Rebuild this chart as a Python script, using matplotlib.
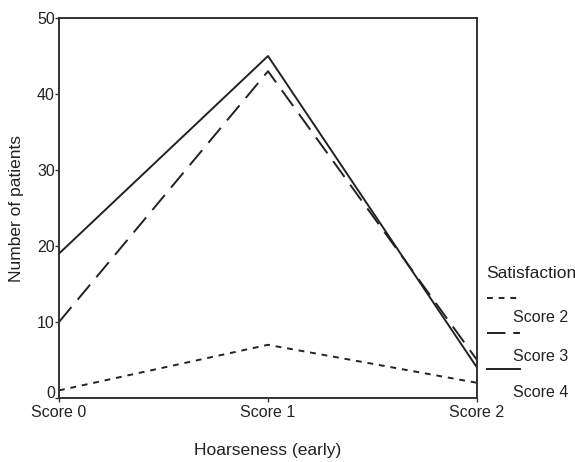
import matplotlib
matplotlib.use("Agg")
import matplotlib.pyplot as plt
from matplotlib.lines import Line2D
from matplotlib.transforms import ScaledTranslation

plt.rcParams['font.family'] = ['Liberation Sans', 'DejaVu Sans']

categories = ["Score 0", "Score 1", "Score 2"]
score2 = [1, 7, 2]
score3 = [10, 43, 5]
score4 = [19, 45, 4]
series_labels = ["Score 2", "Score 3", "Score 4"]
yticks = [0, 10, 20, 30, 40, 50]

fig = plt.figure(figsize=(5.75, 4.62), dpi=100)
ax = fig.add_axes([0.1026, 0.1385, 0.7270, 0.8225])

x = range(len(categories))
ax.plot(x, score2, color="#222222", lw=1.4, linestyle=(0, (3, 3)))
ax.plot(x, score3, color="#222222", lw=1.4, linestyle=(0, (10, 5)))
ax.plot(x, score4, color="#222222", lw=1.4, linestyle="-")

ax.set_xlim(0, 2)
ax.set_ylim(0, 50)
ax.set_xticks(list(x))
ax.set_xticklabels(categories)
ax.set_yticks(yticks)
ax.tick_params(labelsize=11.5, length=3, width=1, color="#333333", labelcolor="#222222")
ax.tick_params(axis="y", pad=0)
ax.tick_params(axis="x", pad=2)
for s in ax.spines.values():
    s.set_linewidth(1.4)
    s.set_color("#333333")

# lift the "0" label a bit so it clears "Score 0"
zero = ax.get_yticklabels()[0]
zero.set_transform(zero.get_transform() + ScaledTranslation(0, 4 / 72, fig.dpi_scale_trans))

ax.set_ylabel("Number of patients", fontsize=12.5, color="#222222", labelpad=9)
fig.text(0.466, 0.024, "Hoarseness (early)", fontsize=12.5, ha="center", va="center", color="#222222")

# legend drawn by hand
fig.text(0.845, 0.407, "Satisfaction", fontsize=12.5, ha="left", va="center", color="#222222")
styles = [(0, (3, 3)), (0, (9.5, 4)), "-"]
line_y = [0.355, 0.279, 0.201]
for st, ly, lab in zip(styles, line_y, series_labels):
    fig.add_artist(Line2D([0.847, 0.905], [ly, ly], transform=fig.transFigure,
                          color="#222222", lw=1.4, linestyle=st))
    fig.text(0.893, ly - 0.05 + (0.007 if lab == "Score 2" else 0), lab,
             fontsize=11.5, ha="left", va="center", color="#222222")

fig.savefig("out.png", dpi=100)
